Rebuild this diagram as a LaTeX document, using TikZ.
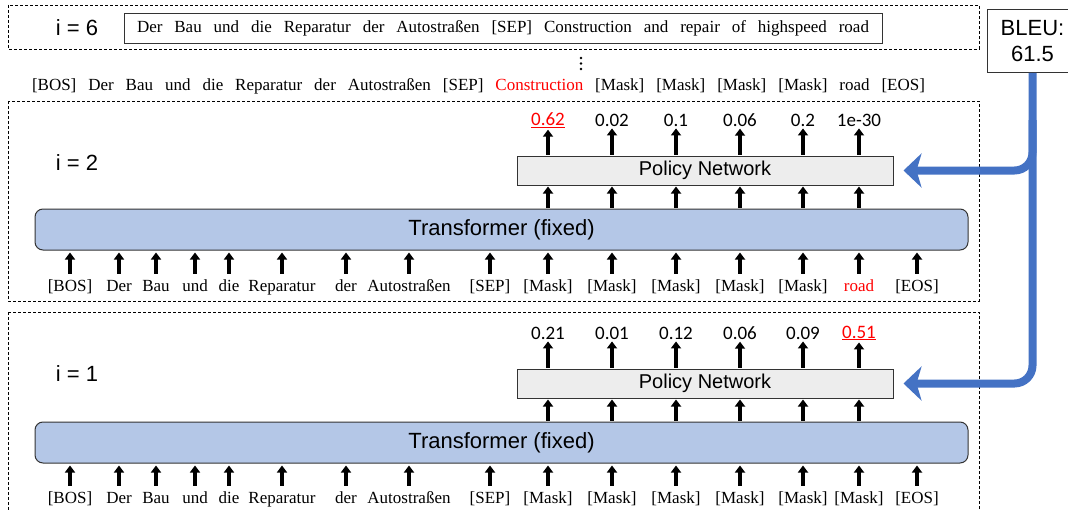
\documentclass[tikz,border=0pt]{standalone}
\usepackage{fontspec}
\setmainfont{Liberation Serif}
\setsansfont{Liberation Sans}
\newfontfamily\calibri{Carlito}
\usetikzlibrary{arrows.meta}

\definecolor{tfblue}{HTML}{B4C7E7}
\definecolor{bleublue}{HTML}{4472C4}

\tikzset{
	panel/.style = {dash pattern = on 3pt off 2pt, line width = 0.7pt},
	token/.style = {font = \fontsize{17}{20}\selectfont, inner sep = 1pt, text height = 12pt, text depth = 4pt},
	score/.style = {font = \calibri\fontsize{19}{22}\selectfont, inner sep = 1pt},
	ilabel/.style = {font = \sffamily\fontsize{22}{26}\selectfont},
	uparrow/.style = {-{Triangle[length = 7pt, width = 10pt]}, line width = 3.5pt},
	transformer/.style = {draw = black!80, fill = tfblue, rounded corners = 8pt, line width = 1pt,
		minimum width = 933pt, minimum height = 41pt, font = \sffamily\fontsize{22}{26}\selectfont},
	policy/.style = {draw = black!80, fill = black!7, line width = 1pt,
		minimum width = 376pt, minimum height = 29pt, font = \sffamily\fontsize{20}{24}\selectfont},
	feedback/.style = {-{Stealth[length = 18pt, width = 34pt, inset = 5pt]}, line width = 8pt,
		bleublue, rounded corners = 18pt}
}

\begin{document}
\begin{tikzpicture}[x = 1pt, y = -1pt]

	\useasboundingbox (0, 0) rectangle (1068, 511);

	% Final step i = 6 with the finished sentence

	\draw [panel] (8, 5) rectangle (979, 49);
	\node [ilabel] (i6) at (77, 28) {i = 6};
	\node [token, draw = black!80, line width = 1pt, minimum width = 758pt, minimum height = 30pt] (src) at (503, 29)
		{\makebox[732pt][s]{Der Bau und die Reparatur der Autostraßen [SEP] Construction and repair of highspeed road}};

	\foreach \y in {58, 63.5, 69}
		\fill (581, \y) circle (1.3pt);

	\node [token] (seq) at (478.5, 86)
		{\makebox[893pt][s]{[BOS] Der Bau und die Reparatur der Autostraßen [SEP] \textcolor{red}{Construction} [Mask] [Mask] [Mask] [Mask] road [EOS]}};

	% Reward box

	\node [ilabel, draw = black!80, line width = 1pt, fill = white, minimum width = 90pt, minimum height = 63pt,
		align = center, anchor = north west] (bleu) at (987, 9) {BLEU:\\61.5};

	% Step i = 2

	\draw [panel] (8, 101) rectangle (979, 301);
	\node [ilabel] (i2) at (77, 163) {i = 2};
	\node [transformer] (tf2) at (501.5, 229.5) {Transformer (fixed)};
	\node [policy] (pn2) at (705, 170.5) {Policy Network};

	\foreach \x/\w/\c [count = \k] in {70/{[BOS]}/black, 119/Der/black, 156/Bau/black, 195/und/black,
		229/die/black, 282/Reparatur/black, 346/der/black, 409/Autostraßen/black, 490/{[SEP]}/black,
		548/{[Mask]}/black, 612/{[Mask]}/black, 676/{[Mask]}/black, 740/{[Mask]}/black, 803/{[Mask]}/black,
		859/road/red, 917/{[EOS]}/black}
	{
		\node [token, text = \c] (a\k) at (\x, 287) {\w};
		\draw [uparrow, shorten < = 4pt, shorten > = 2pt] (a\k.north) -- (a\k.north |- tf2.south);
	}

	\foreach \s [count = \k from 10] in {\textcolor{red}{\underline{0.62}}, 0.02, 0.1, 0.06, 0.2, 1e-30}
	{
		\node [score] (s\k) at (a\k |- 0, 120) {\s};
		\draw [uparrow, shorten < = 1pt, shorten > = 1pt] (a\k |- tf2.north) -- (a\k |- pn2.south);
		\draw [uparrow, shorten < = 1pt, shorten > = 1pt] (a\k |- pn2.north) -- (s\k.south);
	}

	% Step i = 1

	\draw [panel] (8, 312) rectangle (979, 530);
	\node [ilabel] (i1) at (77, 374) {i = 1};
	\node [transformer] (tf1) at (501.5, 442.5) {Transformer (fixed)};
	\node [policy] (pn1) at (705, 383.5) {Policy Network};

	\foreach \x/\w [count = \k] in {70/{[BOS]}, 119/Der, 156/Bau, 195/und, 229/die, 282/Reparatur,
		346/der, 409/Autostraßen, 490/{[SEP]}, 548/{[Mask]}, 612/{[Mask]}, 676/{[Mask]}, 740/{[Mask]},
		803/{[Mask]}, 859/{[Mask]}, 917/{[EOS]}}
	{
		\node [token] (b\k) at (\x, 499) {\w};
		\draw [uparrow, shorten < = 4pt, shorten > = 2pt] (b\k.north) -- (b\k.north |- tf1.south);
	}

	\foreach \s [count = \k from 10] in {0.21, 0.01, 0.12, 0.06, 0.09, \textcolor{red}{\underline{0.51}}}
	{
		\node [score] (r\k) at (b\k |- 0, 333) {\s};
		\draw [uparrow, shorten < = 1pt, shorten > = 1pt] (b\k |- tf1.north) -- (b\k |- pn1.south);
		\draw [uparrow, shorten < = 1pt, shorten > = 1pt] (b\k |- pn1.north) -- (r\k.south);
	}

	% Reward fed back to both policy networks

	\coordinate (split) at (bleu.south |- 0, 120);
	\draw [feedback] (bleu.south) |- ([xshift = 10pt] pn2.east);
	\draw [feedback] (split) |- ([xshift = 10pt] pn1.east);

\end{tikzpicture}
\end{document}
